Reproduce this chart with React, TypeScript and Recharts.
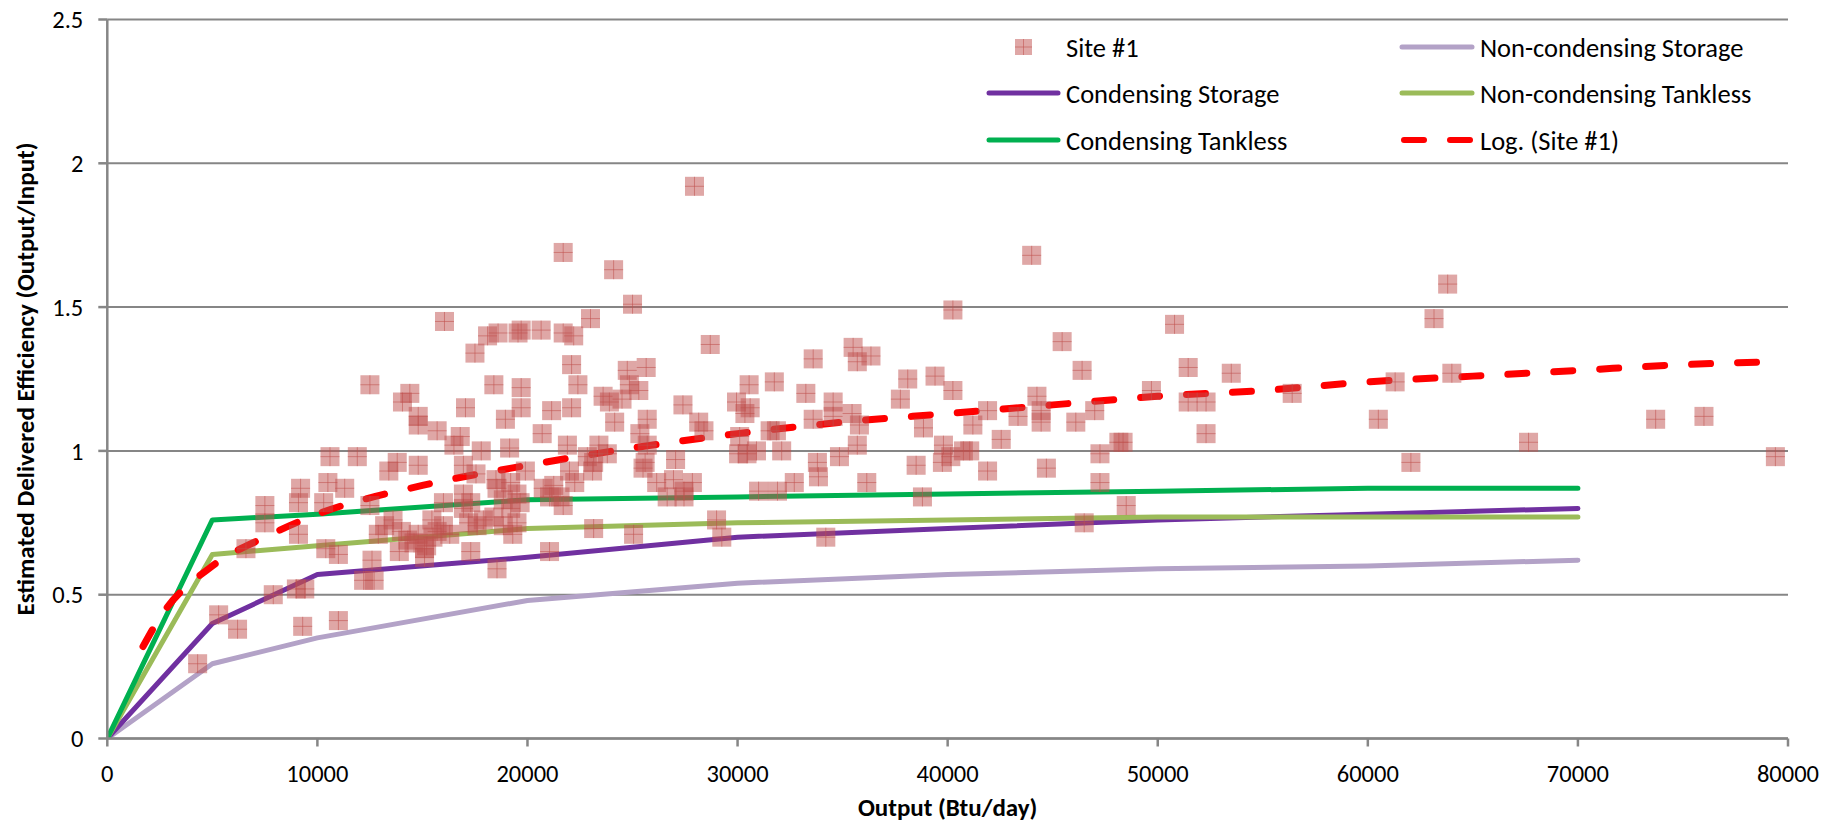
import React from 'react';
import { ComposedChart, Scatter, Line, XAxis, YAxis, CartesianGrid, Legend, Label } from 'recharts';

const FONT = "Carlito, Calibri, Lato, 'Open Sans', sans-serif";

const xTicks = [0, 10000, 20000, 30000, 40000, 50000, 60000, 70000, 80000];
const yTicks = [0, 0.5, 1, 1.5, 2, 2.5];

// Site #1 measured points: [output Btu/day, efficiency]
const site1Points: [number, number][] = [
  [4300, 0.26], [5300, 0.43], [6200, 0.38], [6600, 0.66], [7500, 0.81], [7500, 0.75], [7900, 0.50],
  [9000, 0.52], [9400, 0.52], [9100, 0.82], [9100, 0.71], [9200, 0.87], [9300, 0.39], [10300, 0.82],
  [10500, 0.89], [10600, 0.98], [10400, 0.66], [11000, 0.64], [11000, 0.41], [11300, 0.87], [11900, 0.98],
  [12200, 0.55], [12500, 1.23], [12500, 0.81], [12600, 0.62], [12700, 0.55], [12900, 0.71], [13200, 0.74],
  [13400, 0.93], [13600, 0.76], [13800, 0.96], [13900, 0.65], [14000, 0.72], [14050, 1.17], [14300, 0.69],
  [14400, 1.20], [14600, 0.68], [14800, 0.71], [14800, 0.95], [14800, 1.12], [14800, 1.09], [15100, 0.66],
  [15100, 0.63], [15200, 0.67], [15450, 0.76], [15500, 0.70], [15700, 1.07], [15700, 0.72], [16000, 0.74],
  [16000, 0.82], [16050, 1.45], [16300, 0.71], [16500, 1.02], [16800, 1.05], [16950, 0.95], [16950, 0.85],
  [16950, 0.80], [17050, 1.15], [17200, 0.75], [17300, 0.82], [17300, 0.65], [17500, 1.34], [17550, 0.92],
  [17600, 0.74], [17800, 1.00], [17900, 0.76], [18100, 1.40], [18400, 0.77], [18400, 1.23], [18500, 0.90],
  [18550, 0.87], [18550, 0.59], [18600, 1.41], [18850, 0.83], [18850, 0.74], [18950, 1.11], [19150, 1.01],
  [19200, 0.89], [19200, 0.80], [19300, 0.71], [19500, 0.85], [19500, 0.75], [19550, 1.41], [19650, 0.82],
  [19700, 1.22], [19700, 1.15], [19700, 1.42], [19900, 0.93], [20650, 1.42], [20700, 1.06], [20750, 0.87],
  [21050, 0.84], [21050, 0.65], [21150, 1.14], [21250, 0.88], [21550, 0.84], [21700, 1.69], [21700, 1.41],
  [21700, 0.81], [21900, 1.02], [22000, 0.93], [22100, 1.30], [22100, 1.15], [22200, 1.40], [22250, 0.89],
  [22400, 1.23], [22850, 0.98], [23000, 1.46], [23100, 0.93], [23150, 0.73], [23150, 0.96], [23400, 1.02],
  [23600, 1.19], [23800, 0.99], [23900, 1.17], [24100, 1.63], [24150, 1.10], [24500, 1.18], [24750, 1.28],
  [24850, 1.23], [25000, 1.51], [25050, 0.71], [25300, 1.21], [25350, 1.06], [25500, 0.94], [25600, 0.96],
  [25650, 1.29], [25700, 1.11], [25700, 1.02], [26150, 0.89], [26650, 0.84], [26950, 0.90], [27050, 0.97],
  [27400, 1.16], [27450, 0.86], [27450, 0.84], [27850, 0.89], [27950, 1.92], [28150, 1.10], [28400, 1.07],
  [28700, 1.37], [29000, 0.76], [29250, 0.70], [29950, 1.17], [30050, 0.99], [30100, 1.05], [30350, 1.13],
  [30450, 0.99], [30550, 1.23], [30600, 1.15], [30900, 1.00], [31000, 0.86], [31550, 1.07], [31750, 1.24],
  [31850, 1.07], [31900, 0.86], [32100, 1.00], [32700, 0.89], [33250, 1.20], [33600, 1.32], [33600, 1.11],
  [33800, 0.96], [33850, 0.91], [34200, 0.70], [34550, 1.17], [34550, 1.12], [34850, 0.98], [35450, 1.13],
  [35500, 1.36], [35700, 1.31], [35700, 1.02], [35800, 1.09], [36150, 0.89], [36350, 1.33], [37750, 1.18],
  [38100, 1.25], [38500, 0.95], [38800, 0.84], [38850, 1.08], [39400, 1.26], [39750, 0.96], [39800, 1.02],
  [40150, 0.98], [40250, 1.21], [40250, 1.49], [40750, 1.00], [41050, 1.00], [41200, 1.09], [41900, 1.14],
  [41900, 0.93], [42550, 1.04], [43350, 1.12], [44000, 1.68], [44250, 1.19], [44450, 1.14], [44450, 1.10],
  [44700, 0.94], [45450, 1.38], [46100, 1.10], [46400, 1.28], [46500, 0.75], [47000, 1.14], [47250, 0.99],
  [47250, 0.89], [48150, 1.03], [48350, 1.03], [48500, 0.81], [49700, 1.21], [50800, 1.44], [51450, 1.29],
  [51450, 1.17], [52300, 1.17], [52300, 1.06], [53500, 1.27], [56400, 1.20], [60500, 1.11], [61300, 1.24],
  [62050, 0.96], [63150, 1.46], [63800, 1.58], [64000, 1.27], [67650, 1.03], [73700, 1.11], [76000, 1.12],
  [79400, 0.98],
];

// Reference curves (efficiency at each output)
const curveOutput = [0, 5000, 10000, 20000, 30000, 40000, 50000, 60000, 70000];
const nonCondensingStorage = [0, 0.26, 0.35, 0.48, 0.54, 0.57, 0.59, 0.6, 0.62];
const condensingStorage = [0, 0.4, 0.57, 0.63, 0.7, 0.73, 0.76, 0.78, 0.8];
const nonCondensingTankless = [0, 0.64, 0.67, 0.73, 0.75, 0.76, 0.77, 0.77, 0.77];
const condensingTankless = [0, 0.76, 0.78, 0.83, 0.84, 0.85, 0.86, 0.87, 0.87];

// Logarithmic trend line as drawn
const trendOutput = [1700, 2500, 5000, 7500, 10000, 15000, 20000, 25000, 30000, 35000, 40000, 45000, 50000, 55000, 60000, 65000, 70000, 75000, 79500];
const trendEfficiency = [0.32, 0.42, 0.6, 0.7, 0.78, 0.88, 0.95, 1.01, 1.06, 1.1, 1.13, 1.16, 1.19, 1.21, 1.24, 1.26, 1.28, 1.3, 1.31];

const COLORS = {
  site: '#C0504D',
  ncs: '#B3A2C7',
  cs: '#7030A0',
  nct: '#9BBB59',
  ct: '#00B050',
  trend: '#FF0000',
  axis: '#868686',
};

const toPts = (xs: number[], ys: number[]) => xs.map((x, i) => ({ x, y: ys[i] }));
const siteData = site1Points.map(([x, y]) => ({ x, y }));

const SiteMarker = (props: any) => {
  const { cx, cy } = props;
  if (cx == null || cy == null || isNaN(cx) || isNaN(cy)) return null;
  const s = 19;
  return (
    <g>
      <rect x={cx - s / 2} y={cy - s / 2} width={s} height={s} fill={COLORS.site} fillOpacity={0.5} />
      <line x1={cx} y1={cy - s / 2} x2={cx} y2={cy + s / 2} stroke={COLORS.site} strokeOpacity={0.55} strokeWidth={1} />
      <line x1={cx - s / 2} y1={cy} x2={cx + s / 2} y2={cy} stroke={COLORS.site} strokeOpacity={0.55} strokeWidth={1} />
    </g>
  );
};

const legendFont = 26.5;
const renderLegend = () => {
  const rows = [47, 93, 140];
  const c1Line = [989, 1058];
  const c1Text = 1066;
  const c2Line = [1402, 1472];
  const c2Text = 1480;
  const txt = (x: number, y: number, s: string) => (
    <text x={x} y={y + 10} fontSize={legendFont} fontFamily={FONT} fill="#000">{s}</text>
  );
  const ln = (x1: number, x2: number, y: number, c: string) => (
    <line x1={x1} x2={x2} y1={y} y2={y} stroke={c} strokeWidth={5} strokeLinecap="round" />
  );
  return (
    <svg width={1841} height={170} style={{ display: 'block' }}>
      <rect x={1015} y={rows[0] - 8} width={17} height={16} fill={COLORS.site} fillOpacity={0.5} />
      <line x1={1023.5} x2={1023.5} y1={rows[0] - 8} y2={rows[0] + 8} stroke={COLORS.site} strokeOpacity={0.55} />
      <line x1={1015} x2={1032} y1={rows[0]} y2={rows[0]} stroke={COLORS.site} strokeOpacity={0.55} />
      {txt(c1Text, rows[0], 'Site #1')}
      {ln(c2Line[0], c2Line[1], rows[0], COLORS.ncs)}
      {txt(c2Text, rows[0], 'Non-condensing Storage')}
      {ln(c1Line[0], c1Line[1], rows[1], COLORS.cs)}
      {txt(c1Text, rows[1], 'Condensing Storage')}
      {ln(c2Line[0], c2Line[1], rows[1], COLORS.nct)}
      {txt(c2Text, rows[1], 'Non-condensing Tankless')}
      {ln(c1Line[0], c1Line[1], rows[2], COLORS.ct)}
      {txt(c1Text, rows[2], 'Condensing Tankless')}
      <line x1={1404} x2={1424} y1={rows[2]} y2={rows[2]} stroke={COLORS.trend} strokeWidth={6} strokeLinecap="round" />
      <line x1={1450} x2={1470} y1={rows[2]} y2={rows[2]} stroke={COLORS.trend} strokeWidth={6} strokeLinecap="round" />
      {txt(c2Text, rows[2], 'Log. (Site #1)')}
    </svg>
  );
};

export default function App() {
  const tickStyle = { fill: '#000', fontSize: 24.5, fontFamily: FONT };
  return (
    <div style={{ position: 'absolute', left: 0, top: 0, width: 1841, height: 827, background: '#fff' }}>
      <ComposedChart width={1841} height={827} margin={{ top: 19.5, right: 53, bottom: 0, left: 0 }}>
        <CartesianGrid horizontal vertical={false} stroke={COLORS.axis} strokeWidth={2} />
        <XAxis
          type="number"
          dataKey="x"
          domain={[0, 80000]}
          ticks={xTicks}
          interval={0}
          height={88.5}
          stroke={COLORS.axis}
          strokeWidth={2.5}
          tickSize={8}
          tickMargin={18}
          tick={tickStyle}
          allowDataOverflow
        >
          <Label
            value="Output (Btu/day)"
            position="insideBottom"
            offset={11}
            style={{ fontSize: 25, fontWeight: 700, fontFamily: FONT, fill: '#000' }}
          />
        </XAxis>
        <YAxis
          type="number"
          dataKey="y"
          domain={[0, 2.5]}
          ticks={yTicks}
          interval={0}
          width={107.3}
          stroke={COLORS.axis}
          strokeWidth={2.5}
          tickSize={9}
          tickMargin={15}
          tick={tickStyle}
          allowDataOverflow
        >
          <Label
            value="Estimated Delivered Efficiency (Output/Input)"
            angle={-90}
            position="insideLeft"
            offset={25}
            style={{ fontSize: 25, fontWeight: 700, fontFamily: FONT, fill: '#000', textAnchor: 'middle' }}
          />
        </YAxis>
        <Line data={toPts(curveOutput, nonCondensingStorage)} dataKey="y" type="linear" stroke={COLORS.ncs} strokeWidth={5} dot={false} activeDot={false} isAnimationActive={false} strokeLinecap="round" strokeLinejoin="round" name="Non-condensing Storage" />
        <Line data={toPts(curveOutput, condensingStorage)} dataKey="y" type="linear" stroke={COLORS.cs} strokeWidth={5} dot={false} activeDot={false} isAnimationActive={false} strokeLinecap="round" strokeLinejoin="round" name="Condensing Storage" />
        <Line data={toPts(curveOutput, nonCondensingTankless)} dataKey="y" type="linear" stroke={COLORS.nct} strokeWidth={5} dot={false} activeDot={false} isAnimationActive={false} strokeLinecap="round" strokeLinejoin="round" name="Non-condensing Tankless" />
        <Line data={toPts(curveOutput, condensingTankless)} dataKey="y" type="linear" stroke={COLORS.ct} strokeWidth={5} dot={false} activeDot={false} isAnimationActive={false} strokeLinecap="round" strokeLinejoin="round" name="Condensing Tankless" />
        <Scatter data={siteData} dataKey="y" shape={SiteMarker} isAnimationActive={false} name="Site #1" />
        <Line data={toPts(trendOutput, trendEfficiency)} dataKey="y" type="monotone" stroke={COLORS.trend} strokeWidth={7} strokeDasharray="19 27" strokeLinecap="round" dot={false} activeDot={false} isAnimationActive={false} name="Log. (Site #1)" />
        <Legend content={renderLegend} layout="horizontal" verticalAlign="middle" align="center" wrapperStyle={{ left: 0, top: 0, width: 1841, height: 170 }} />
      </ComposedChart>
    </div>
  );
}
